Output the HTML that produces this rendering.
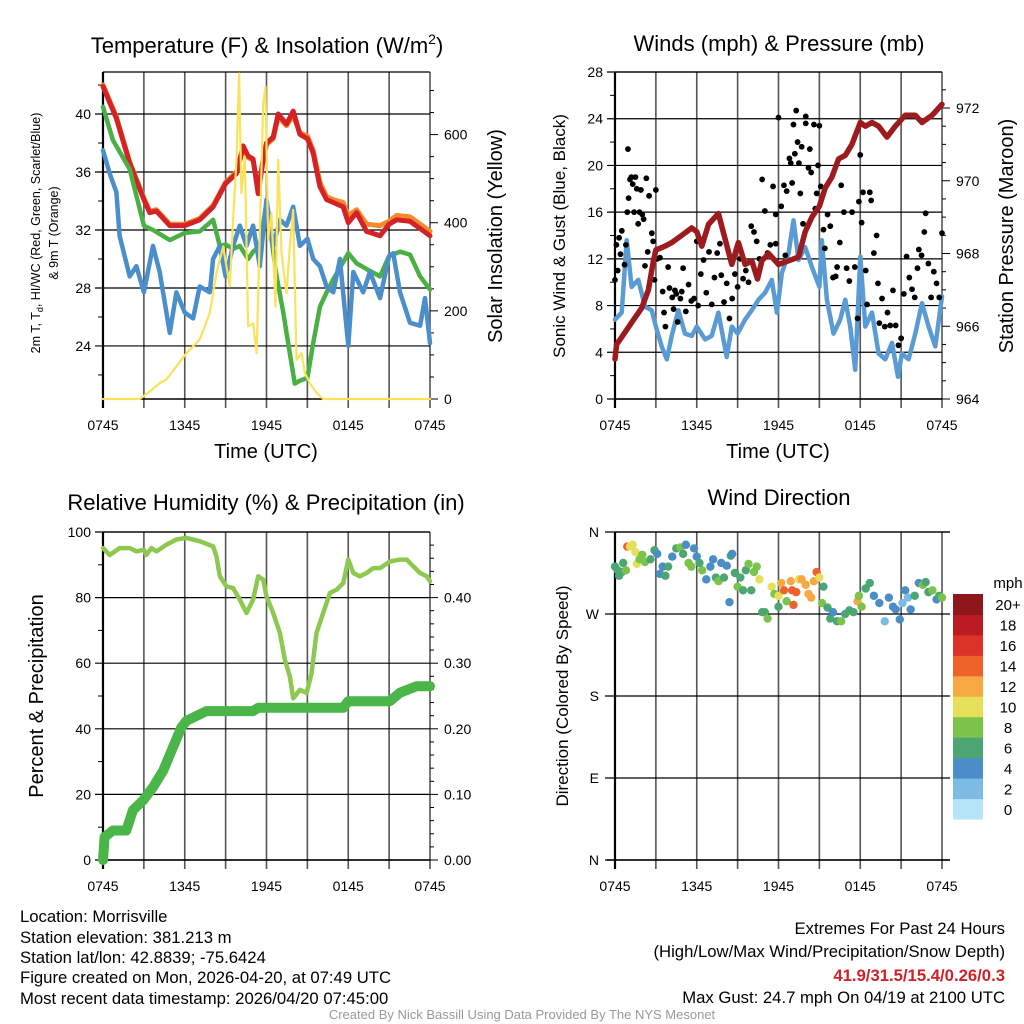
<!DOCTYPE html>
<html><head><meta charset="utf-8">
<style>
html,body{margin:0;padding:0;background:#fff;}
svg{display:block;font-family:"Liberation Sans",sans-serif;}
.ft{font-family:"Liberation Sans",sans-serif;font-size:16.7px;}
</style></head>
<body>
<svg id="fig" width="1024" height="1024" viewBox="0 0 1024 1024" xmlns="http://www.w3.org/2000/svg">
<text x="267" y="53" font-size="22" text-anchor="middle">Temperature (F) &amp; Insolation (W/m<tspan dy="-9" font-size="14">2</tspan><tspan dy="9">)</tspan></text>
<text x="779" y="51" font-size="22" text-anchor="middle">Winds (mph) &amp; Pressure (mb)</text>
<text x="266" y="510" font-size="22" text-anchor="middle">Relative Humidity (%) &amp; Precipitation (in)</text>
<text x="779" y="505" font-size="22" text-anchor="middle">Wind Direction</text>

<text transform="translate(40,233) rotate(-90)" font-size="12.5" text-anchor="middle">2m T, T<tspan font-size="9" dy="3">d</tspan><tspan dy="-3">, HI/WC (Red, Green, Scarlet/Blue)</tspan></text>
<text transform="translate(58,233) rotate(-90)" font-size="12.5" text-anchor="middle">&amp; 9m T (Orange)</text>
<text transform="translate(502,236) rotate(-90)" font-size="20" text-anchor="middle">Solar Insolation (Yellow)</text>
<text transform="translate(565,236) rotate(-90)" font-size="17" text-anchor="middle">Sonic Wind &amp; Gust (Blue, Black)</text>
<text transform="translate(1013,236) rotate(-90)" font-size="20" text-anchor="middle">Station Pressure (Maroon)</text>
<text transform="translate(43,696) rotate(-90)" font-size="20" text-anchor="middle">Percent &amp; Precipitation</text>
<text transform="translate(568,696) rotate(-90)" font-size="17" text-anchor="middle">Direction (Colored By Speed)</text>
<text x="266" y="458" font-size="20" text-anchor="middle">Time (UTC)</text>
<text x="778" y="458" font-size="20" text-anchor="middle">Time (UTC)</text>

<g id="layer"></g>

<g class="ft">
<text x="20" y="922">Location: Morrisville</text>
<text x="20" y="943">Station elevation: 381.213 m</text>
<text x="20" y="963">Station lat/lon: 42.8839; -75.6424</text>
<text x="20" y="983">Figure created on Mon, 2026-04-20, at 07:49 UTC</text>
<text x="20" y="1004">Most recent data timestamp: 2026/04/20 07:45:00</text>
</g>
<g class="ft" text-anchor="end">
<text x="1005" y="934">Extremes For Past 24 Hours</text>
<text x="1005" y="957">(High/Low/Max Wind/Precipitation/Snow Depth)</text>
<text x="1005" y="981" fill="#d0222a" font-weight="bold">41.9/31.5/15.4/0.26/0.3</text>
<text x="1005" y="1003">Max Gust: 24.7 mph On 04/19 at 2100 UTC</text>
</g>
<text x="522" y="1019" font-size="13" fill="#999" text-anchor="middle">Created By Nick Bassill Using Data Provided By The NYS Mesonet</text>
</svg>
<script>
// ---- data (hours after 0745 UTC) ----
const xTickLabels = ["0745","1345","1945","0145","0745"];
const redT = [0,0.98,1.96,3.0,3.43,3.92,4.9,6.0,7.1,8.08,9.0,9.8,10.29,10.65,11.02,11.39,11.76,12.0,12.49,12.86,13.47,13.96,14.45,15.0,15.43,15.92,16.41,16.9,17.63,18.0,18.61,19.35,20.33,21.0,21.55,22.53,23.27,24];
const redV = [41.9,39.7,36.6,34.1,33.2,33.3,32.3,32.3,32.7,33.6,35.2,35.9,37.8,37.1,36.9,34.5,36.9,38.0,38.4,40.0,39.3,40.2,38.6,38.3,37.3,35.0,34.1,33.9,33.6,32.5,33.2,31.9,31.6,32.4,32.7,32.6,32.1,31.6];
const orgV = [42.0,39.8,36.7,34.2,33.3,33.4,32.4,32.4,32.8,33.7,35.3,36.0,37.6,37.0,36.8,34.8,36.8,37.9,38.3,39.8,39.2,39.9,38.7,38.5,37.5,35.3,34.3,34.1,33.9,33.0,33.4,32.4,32.3,32.6,33.0,32.9,32.4,31.9];
const grnT = [0,0.73,1.96,3.0,3.67,4.9,6.0,7.1,8.08,8.57,9.0,9.55,10.04,10.65,11.02,11.51,12.0,12.74,13.23,13.71,14.08,14.45,15.0,15.43,15.92,16.41,16.9,18.0,18.61,19.35,20.33,21.0,21.8,22.53,23.27,24];
const grnV = [40.5,38.2,36.2,32.3,32.0,31.3,31.8,31.9,32.7,30.9,31.0,30.7,30.9,30.0,30.5,30.9,33.9,28.8,26.3,23.5,21.4,21.6,21.8,24.2,26.7,27.7,28.6,30.4,29.7,29.3,28.8,30.2,30.5,30.3,28.8,27.9];
const bluT = [0,0.49,0.98,1.22,1.96,2.45,3.0,3.67,4.16,4.9,5.39,6.0,6.61,7.1,7.84,8.08,8.57,9.0,9.55,10.04,10.53,11.02,11.51,12.0,12.49,12.98,13.47,13.96,14.45,15.0,15.43,15.92,16.41,16.9,17.39,18.0,18.37,19.1,19.59,20.33,21.0,21.3,21.8,22.53,23.27,23.63,24];
const bluV = [37.5,35.9,34.6,31.6,28.8,29.5,27.7,30.9,29.1,24.9,27.7,26.3,25.9,28.1,27.7,30.0,30.9,28.8,30.9,32.3,30.9,32.3,29.5,34.1,30.9,32.7,32.3,33.6,30.9,31.4,30.0,29.5,28.1,27.7,30.0,24.0,29.1,27.7,29.1,27.3,30.2,30.4,27.7,25.6,25.4,27.3,24.2];
const solT = [0,2.69,3.43,4.16,4.65,5.39,6.12,7.1,7.84,8.33,8.82,9.31,9.55,9.8,9.99,10.16,10.41,10.65,11.02,11.27,11.51,11.76,11.93,12.12,12.37,12.66,12.86,13.1,13.47,13.71,13.96,14.2,14.57,14.82,15.18,15.67,16.16,24];
const solV = [0,0,17,36,44,74,104,135,195,286,346,255,407,543,739,467,550,165,172,104,376,671,709,361,422,210,543,331,240,346,429,89,104,59,36,14,0,0];
const presT = [0,0.12,0.49,1.22,1.96,2.45,2.82,3.0,3.67,4.16,4.9,5.63,6.0,6.37,6.86,7.59,8.08,8.57,9.06,9.55,10.04,10.46,10.78,11.27,12.0,12.74,13.47,13.96,14.45,15.0,15.43,15.92,16.41,16.9,17.39,18.0,18.37,18.86,19.35,19.96,20.57,21.3,21.8,22.04,22.53,23.27,24];
const presV = [965.1,965.5,965.7,966.1,966.5,967.0,967.8,968.1,968.2,968.3,968.5,968.7,968.6,968.2,968.8,969.1,968.4,967.7,968.3,967.7,967.8,967.3,967.8,968.0,967.7,967.8,967.9,968.6,969.0,969.3,969.8,970.1,970.6,970.7,971.0,971.6,971.5,971.6,971.5,971.2,971.5,971.8,971.8,971.8,971.6,971.8,972.1];
const windT = [0,0.49,0.86,1.22,1.71,2.2,2.69,3.0,3.43,3.8,4.16,4.65,5.14,5.63,6.0,6.61,7.1,7.59,8.2,8.57,9.0,9.55,10.04,10.53,11.02,11.51,11.88,12.25,12.74,13.1,13.47,13.96,14.45,15.0,15.18,15.55,16.04,16.53,16.9,17.26,17.63,18.0,18.37,18.86,19.35,19.84,20.33,20.77,21.06,21.55,22.04,22.53,23.02,23.51,24];
const windV = [6.8,7.4,13.6,9.6,10.2,7.9,7.6,6.2,4.5,3.4,5.4,7.6,5.6,5.4,6.2,5.1,5.4,7.4,3.6,6.2,5.6,6.8,7.6,8.5,9.1,10.2,7.4,10.8,12.5,15.3,11.9,13.0,11.3,9.6,13.6,8.5,5.6,6.8,8.5,6.2,2.5,12.2,6.2,7.4,3.9,3.4,4.8,1.9,3.9,3.4,5.6,8.2,6.2,4.5,8.8];
const gustT = [0,0.1,0.2,0.3,0.4,0.5,0.7,0.8,0.9,0.95,1.0,1.1,1.2,1.3,1.4,1.5,1.6,1.7,1.8,1.9,2.0,2.1,2.2,2.3,2.4,2.5,2.7,2.8,2.9,3.0,3.1,3.3,3.5,3.6,3.7,3.9,4.0,4.2,4.3,4.4,4.5,4.6,4.8,4.9,5.0,5.2,5.4,5.6,5.8,6.0,6.1,6.3,6.5,6.7,6.9,7.1,7.3,7.5,7.7,7.8,8.0,8.2,8.4,8.6,8.8,9.0,9.2,9.4,9.6,9.8,10.0,10.2,10.4,10.6,10.8,11.0,11.2,11.4,11.6,11.8,11.8,12.0,12.2,12.4,12.5,12.6,12.8,12.9,13.0,13.1,13.2,13.3,13.4,13.5,13.6,13.7,13.8,14.0,14.0,14.2,14.3,14.4,14.6,14.7,14.8,14.9,15.0,15.1,15.3,15.4,15.6,15.8,16.0,16.2,16.3,16.5,16.6,16.8,17.0,17.2,17.4,17.6,17.8,17.9,18.0,18.1,18.2,18.4,18.5,18.7,18.8,19.0,19.2,19.3,19.4,19.6,19.8,20.0,20.2,20.4,20.6,20.8,21.0,21.2,21.4,21.6,21.8,22.0,22.2,22.3,22.5,22.7,22.8,23.0,23.2,23.4,23.6,23.8,24.0];
const gustV = [10.2,13.2,11,13.8,12.4,14.4,11.5,13.2,16,21.4,17.2,18.8,19,18.4,16,19,18,15,16,17.9,15.8,15.4,11.4,18.9,12.6,17.4,14.2,13.5,10.2,17.9,12,12.1,9.2,7.4,6.2,11.3,9.5,8.7,7.7,9.3,9,6.6,8.6,9.2,11.2,7.5,9.8,8.4,8.6,13.5,8,10.7,11.9,9.1,12.6,8.1,10.4,12.5,13.3,10.6,8.3,9.9,6.9,8.6,10.7,9.6,12,10.3,11,10,14.8,14.3,13.5,12,18.8,16.1,12.5,13.2,18.2,13.3,15.8,24.1,16.5,18.3,12.3,17.8,20.6,20.2,18.5,23.5,21,24.7,22,20.2,17.6,21.6,15,24.2,23.6,19.8,21.4,19.4,23.5,16.3,17.6,20,23.4,18.2,14.5,12.9,15.8,14.8,10.4,10.5,11.3,13.4,18.3,16,11.2,10.1,16,11.3,6.9,16.9,20.9,15.1,17.7,11,8.1,17.7,17,12.5,14,9.9,6.5,8.6,6.2,7.4,6.3,9.3,6.3,4.6,5.2,9,12.2,10.4,9.4,8.7,11.2,12.8,12.3,14.3,15.9,11.6,8.7,10.9,9.9,8.7,14.2];
const rhT = [0,0.49,1.22,1.96,2.45,3.0,3.18,3.55,3.92,4.65,5.39,6.12,7.1,8.08,8.33,8.57,9.06,9.55,10.04,10.53,11.02,11.39,11.76,12.0,12.49,12.98,13.35,13.71,13.96,14.45,14.94,15.31,15.67,16.16,16.65,17.14,17.63,18.0,18.37,18.86,19.35,19.84,20.33,21.06,21.8,22.29,22.78,23.27,23.76,24];
const rhV = [95.1,93,95.1,95.1,94.1,94.6,93,95.1,94.1,96.1,97.7,98.2,97.2,95.6,92.5,86.5,83.4,82.9,79.4,75.3,79.4,86.5,85.5,80.4,75.3,69.2,61,56,49.3,51.9,50.9,57,69.2,75.3,81.4,82.4,84.4,91.6,87.5,86.5,87.5,89,89,91,91.6,91.6,89.5,87.5,86.5,85];
const precT = [0,0.12,0.73,1.71,2.2,2.94,3.67,4.41,5.14,5.75,6.12,7.1,7.59,11.02,11.39,17.63,18.0,21.06,21.8,23.02,24];
const precV = [0,0.035,0.045,0.045,0.076,0.091,0.111,0.136,0.172,0.202,0.212,0.222,0.227,0.227,0.232,0.232,0.242,0.242,0.255,0.265,0.265];
const dirT = [0,0.2,0.3,0.5,0.6,0.8,0.9,1.1,1.3,1.5,1.6,1.8,2.0,2.2,2.6,2.9,3.1,3.3,3.5,3.7,3.9,4.2,4.5,4.8,5.0,5.2,5.4,5.6,5.8,6.0,6.2,6.4,6.7,7.0,7.2,7.4,7.6,7.8,8.0,8.2,8.4,8.5,8.6,8.8,9.0,9.2,9.4,9.6,9.8,10.0,10.2,10.4,10.6,10.8,11.0,11.2,11.5,11.7,12.0,12.0,12.2,12.4,12.6,12.9,13.0,13.1,13.3,13.5,13.7,14.0,14.2,14.4,14.6,14.8,15.0,15.2,15.3,15.6,15.8,16.0,16.3,16.6,16.9,17.2,17.5,17.8,17.9,18.1,18.4,18.7,19.0,19.4,19.8,20.1,20.4,20.6,20.9,21.1,21.3,21.5,21.7,22.0,22.3,22.6,22.8,23.0,23.3,23.6,23.8,24.0];
const dirV = [322,318,312,316,326,318,344,344,346,338,325,330,335,327,330,340,336,314,322,312,322,333,342,343,336,346,326,322,342,333,326,318,308,322,330,310,306,326,310,323,283,334,336,315,300,310,296,318,325,296,316,322,308,272,272,265,300,292,290,278,304,296,284,306,296,280,294,308,308,302,292,288,306,316,310,282,300,277,265,272,262,262,270,274,272,284,290,278,298,304,290,282,262,288,278,275,264,282,296,288,275,290,304,302,305,294,296,286,290,288];
const dirS = [7,7,7,7,7,9,15,11,11,11,11,9,9,9,7,7,5,5,5,7,7,5,7,9,7,5,9,9,5,5,7,9,5,5,5,7,9,5,7,5,5,7,5,7,9,7,7,7,9,7,9,9,11,7,7,9,11,9,11,7,13,15,9,13,15,15,15,11,13,13,13,13,13,15,11,9,7,7,7,5,7,9,7,7,7,13,9,9,7,7,5,5,3,5,5,5,5,3,5,3,5,7,5,9,7,7,9,5,7,9];
const cbarLabels = ["0","2","4","6","8","10","12","14","16","18","20+"];
const cbarColors = ["#b5e3f8","#7cbbe4","#4a8dc7","#4ba673","#7cc34b","#e6df5a","#f6a843","#ef6229","#dc3327","#bb1c24","#8f161b"];

// ---- helpers ----
const NS = "http://www.w3.org/2000/svg";
const layer = document.getElementById("layer");
function mk(tag, attrs, name){
  const el = document.createElementNS(NS, tag);
  for (const k in attrs) el.setAttribute(k, attrs[k]);
  
  
  layer.appendChild(el);
  return el;
}
function txt(x,y,s,size,anchor,name){
  const el = mk("text",{x:x,y:y,"font-size":size,"text-anchor":anchor},name);
  el.textContent = s;
  return el;
}
function sx(p,h){ return p.x0 + (p.x1-p.x0)*h/24; }
function sy(p,v,lo,hi){ return p.y1 - (p.y1-p.y0)*(v-lo)/(hi-lo); }
function poly(p,ts,vs,lo,hi,color,w,name){
  const pts = ts.map((t,i)=>sx(p,t).toFixed(1)+","+sy(p,vs[i],lo,hi).toFixed(1)).join(" ");
  mk("polyline",{points:pts,fill:"none",stroke:color,"stroke-width":w,"stroke-linejoin":"round","stroke-linecap":"round"},name);
}
function frame(p, name, hExt){
  for (let i=0;i<=8;i++){
    const x = sx(p,i*3);
    mk("line",{x1:x,y1:p.y0,x2:x,y2:p.y1+9,stroke:(i==0)?"#000":"#555","stroke-width":(i==0)?2.2:1.6},name+"-vgrid");
  }
  mk("line",{x1:p.x0,y1:p.y0,x2:p.x1+(hExt||0),y2:p.y0,stroke:"#000","stroke-width":1.2},name+"-top");
  mk("line",{x1:p.x0-(hExt||0),y1:p.y1,x2:p.x1+(hExt||0),y2:p.y1,stroke:"#000","stroke-width":1.4},name+"-bottom");
  xTickLabels.forEach((s,i)=>{ txt(sx(p,i*6), p.y1+31, s, 14, "middle", name+"-x-tick-label"); });
}

// ---- panel 1: temperature ----
const P1 = {x0:103,x1:430,y0:72,y1:399};
const tLo = 20.34, tHi = 42.9, sLo = 0, sHi = 742;
frame(P1,"temp");
[22,26,30,34,38,42].forEach(v=>{ mk("line",{x1:P1.x0-5,y1:sy(P1,v,tLo,tHi),x2:P1.x0,y2:sy(P1,v,tLo,tHi),stroke:"#000"},"temp-minor-tick"); });
[24,28,32,36,40].forEach(v=>{
  const y = sy(P1,v,tLo,tHi);
  mk("line",{x1:P1.x0-8,y1:y,x2:P1.x1,y2:y,stroke:"#000","stroke-width":1.2},"temp-hgrid");
  txt(P1.x0-12,y+5,String(v),14,"end","temp-y-tick-label");
});
for (let v=0; v<=700; v+=50){
  const y = sy(P1,v,sLo,sHi);
  mk("line",{x1:P1.x1,y1:y,x2:P1.x1+(v%200==0?8:4),y2:y,stroke:"#000"},"solar-right-tick");
  if (v%200==0) txt(P1.x1+14,y+5,String(v),14,"start","solar-tick-label");
}
poly(P1,redT,orgV,tLo,tHi,"#f58a2c",5,"temp-9m-orange-line");
poly(P1,redT,redV,tLo,tHi,"#d42327",5,"temp-2m-red-line");
poly(P1,grnT,grnV,tLo,tHi,"#4bb043",4.5,"dewpoint-green-line");
poly(P1,bluT,bluV,tLo,tHi,"#4a8fcb",4.5,"windchill-blue-line");
poly(P1,solT,solV,sLo,sHi,"#fbe25a",2.2,"solar-yellow-line");

// ---- panel 2: wind & pressure ----
const P2 = {x0:615,x1:942,y0:72,y1:399};
frame(P2,"wind");
for (let v=0; v<=28; v+=2){
  const y = sy(P2,v,0,28);
  if (v%4==0){
    mk("line",{x1:P2.x0-8,y1:y,x2:P2.x1,y2:y,stroke:"#000","stroke-width":1.2},"wind-hgrid");
    txt(P2.x0-12,y+5,String(v),14,"end","wind-y-tick-label");
  } else mk("line",{x1:P2.x0-5,y1:y,x2:P2.x0,y2:y,stroke:"#000"},"wind-minor-tick");
}
const pLo = 964, pHi = 964 + 8*(399-72)/(399-108);
for (let v=964; v<=972.6; v+=0.5){
  const y = sy(P2,v,pLo,pHi);
  const maj = Math.abs(v%2)<1e-6;
  mk("line",{x1:P2.x1,y1:y,x2:P2.x1+(maj?8:4),y2:y,stroke:"#000"},"pressure-right-tick");
  if (maj) txt(P2.x1+14,y+5,String(v),14,"start","pressure-tick-label");
}
poly(P2,windT,windV,0,28,"#5a9bd4",4.5,"sonic-wind-blue-line");
gustT.forEach((t,i)=>{
  mk("circle",{cx:sx(P2,t),cy:sy(P2,gustV[i],0,28),r:2.9,fill:"#000"},"gust-dot");
});
poly(P2,presT,presV,pLo,pHi,"#9b1b1e",5.5,"pressure-maroon-line");

// ---- panel 3: RH & precip ----
const P3 = {x0:103,x1:430,y0:532,y1:860};
frame(P3,"rh");
for (let v=0; v<=100; v+=10){
  const y = sy(P3,v,0,100);
  if (v%20==0){
    mk("line",{x1:P3.x0-8,y1:y,x2:P3.x1,y2:y,stroke:"#000","stroke-width":1.2},"rh-hgrid");
    txt(P3.x0-12,y+5,String(v),14,"end","rh-y-tick-label");
  } else mk("line",{x1:P3.x0-5,y1:y,x2:P3.x0,y2:y,stroke:"#000"},"rh-minor-tick");
}
for (let k=0; k<=24; k++){
  const v = k*0.02;
  const y = sy(P3,v,0,0.5);
  const maj = k%5==0;
  mk("line",{x1:P3.x1,y1:y,x2:P3.x1+(maj?8:4),y2:y,stroke:"#000"},"precip-right-tick");
  if (maj) txt(P3.x1+14,y+5,v.toFixed(2),14,"start","precip-tick-label");
}
poly(P3,rhT,rhV,0,100,"#8dc850",4.5,"rh-line");
poly(P3,precT,precV,0,0.5,"#4ab548",10,"precip-line");

// ---- panel 4: wind direction ----
const P4 = {x0:615,x1:942,y0:532,y1:860};
frame(P4,"dir",8);
const dirLabels = ["N","E","S","W","N"];
dirLabels.forEach((s,i)=>{
  const y = sy(P4,i*90,0,360);
  mk("line",{x1:P4.x0-10,y1:y,x2:P4.x1+8,y2:y,stroke:"#000","stroke-width":1.2},"dir-hgrid");
  txt(P4.x0-16,y+5,s,14,"end","dir-tick-label");
});
function spdColor(s){ let k = Math.floor(s/2); if (k>10) k=10; return cbarColors[k]; }
dirT.forEach((t,i)=>{
  mk("circle",{cx:sx(P4,t),cy:sy(P4,dirV[i],0,360),r:4.2,fill:spdColor(dirS[i])},"wind-dir-dot");
});
// colorbar
const cb = {x:953,y0:594,y1:819,w:30};
const cbh = (cb.y1-cb.y0)/cbarColors.length;
cbarColors.forEach((c,i)=>{
  const y = cb.y1 - (i+1)*cbh;
  mk("rect",{x:cb.x,y:y,width:cb.w,height:cbh+0.5,fill:c},"colorbar-box");
  txt(1008,y+cbh/2+6,cbarLabels[i],15,"middle","colorbar-label");
});
txt(1008,588,"mph",15,"middle","colorbar-title");
</script>
</body></html>
